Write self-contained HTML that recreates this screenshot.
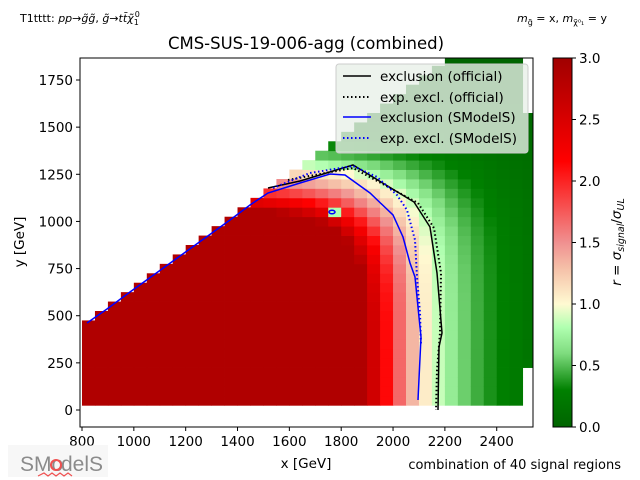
<!DOCTYPE html>
<html><head><meta charset="utf-8"><style>
html,body{margin:0;padding:0;background:#fff;}
svg{display:block;font-family:"DejaVu Sans","Liberation Sans",sans-serif;}
</style></head><body>
<svg id="s" width="640" height="480" viewBox="0 0 640 480" xmlns="http://www.w3.org/2000/svg">
<defs>
<linearGradient id="cb" x1="0" y1="1" x2="0" y2="0">
<stop offset="0" stop-color="#006400"/>
<stop offset="0.1" stop-color="#008000"/>
<stop offset="0.2" stop-color="#7fdc7f"/>
<stop offset="0.27" stop-color="#b0ffb0"/>
<stop offset="0.333" stop-color="#fffad2"/>
<stop offset="0.43" stop-color="#f5c0a8"/>
<stop offset="0.5" stop-color="#f09090"/>
<stop offset="0.72" stop-color="#ff0000"/>
<stop offset="1" stop-color="#a00000"/>
</linearGradient>
<clipPath id="ax"><rect x="80" y="58" width="453" height="369"/></clipPath>
</defs>
<g id="cells" clip-path="url(#ax)"></g>
<g clip-path="url(#ax)" fill="none" stroke-width="1.5">
<polyline stroke="#000" points="268,188 300,181 353,165 414,202 430,227 437,273 442,333 439,347 438,410"/>
<polyline stroke="#000" stroke-dasharray="1.5,2.5" stroke-width="2" points="288,180 320,174 353,168 418,203 434,228 441,273 440,333 437,370 436,410"/>
<polyline stroke="#00f" points="87,323 107,309 130,292 155,274 180,256 205,238 230,220 250,205 268,193 300,183 330,174 345,175 370,193 393,215 403,237 410,263 415,277 421,337 418,400"/>
<polyline stroke="#00f" stroke-dasharray="1.5,2.5" stroke-width="2" points="273,188 310,173 353,166 377,177 397,195 407,210 415,240 417,277 420,313 421,345"/>
<ellipse cx="332" cy="212" rx="3" ry="1.8" stroke="#00f"/>
</g>
<rect x="80" y="58" width="453" height="369" fill="none" stroke="#000" stroke-width="1"/>
<rect x="336" y="64" width="192" height="89" rx="3" fill="#e8f0e8" fill-opacity="0.8" stroke="#ccc"/>
<g stroke-width="1.5">
<line x1="343" y1="76" x2="371" y2="76" stroke="#000"/>
<line x1="343" y1="97" x2="371" y2="97" stroke="#000" stroke-dasharray="1.5,2.5" stroke-width="2"/>
<line x1="343" y1="117" x2="371" y2="117" stroke="#00f"/>
<line x1="343" y1="138" x2="371" y2="138" stroke="#00f" stroke-dasharray="1.5,2.5" stroke-width="2"/>
</g>
<g font-size="13.5" fill="#000">
<text x="380" y="81">exclusion (official)</text>
<text x="380" y="102">exp. excl. (official)</text>
<text x="380" y="122">exclusion (SModelS)</text>
<text x="380" y="143">exp. excl. (SModelS)</text>
</g>
<g id="ticks" font-size="13.5" fill="#000"></g>
<rect x="553" y="58" width="19" height="369" fill="url(#cb)" stroke="#000" stroke-width="1"/>
<text x="306" y="49" font-size="16.5" text-anchor="middle">CMS-SUS-19-006-agg (combined)</text>
<text x="306" y="468" font-size="13.5" text-anchor="middle">x [GeV]</text>
<text transform="translate(24,242) rotate(-90)" font-size="13.5" text-anchor="middle">y [GeV]</text>
<text transform="translate(621,242) rotate(-90)" font-size="13.5" text-anchor="middle"><tspan font-style="italic">r</tspan> = <tspan font-style="italic">σ</tspan><tspan font-size="9.5" dy="3" font-style="italic">signal</tspan><tspan dy="-3">/</tspan><tspan font-style="italic">σ</tspan><tspan font-size="9.5" dy="3" font-style="italic">UL</tspan></text>
<text x="621" y="469" font-size="13" text-anchor="end">combination of 40 signal regions</text>
<text x="20" y="22" font-size="11">T1tttt: <tspan font-style="italic">pp</tspan>→<tspan font-style="italic">g̃g̃</tspan>, <tspan font-style="italic">g̃</tspan>→<tspan font-style="italic">tt̄χ̃</tspan><tspan font-size="8" dy="3">1</tspan><tspan font-size="8" dy="-8" dx="-4">0</tspan></text>
<text x="607" y="22" font-size="11" text-anchor="end"><tspan font-style="italic">m</tspan><tspan font-size="8" dy="3">g̃</tspan><tspan dy="-3"> = x, </tspan><tspan font-style="italic">m</tspan><tspan font-size="8" dy="3">χ̃⁰₁</tspan><tspan dy="-3"> = y</tspan></text>
<g opacity="0.85">
<rect x="8" y="445" width="100" height="32" fill="#eee" opacity="0.6"/>
<text x="20" y="471" font-size="21" fill="#777" font-family="Liberation Sans, sans-serif">SMo</text>
<text x="61" y="471" font-size="21" fill="#777" font-family="Liberation Sans, sans-serif">delS</text>
<circle cx="56" cy="465" r="5" fill="none" stroke="#e33" stroke-width="2"/>
<polyline points="38,476 44,473 48,476 52,473 56,476 60,473 64,476 68,473 72,476" fill="none" stroke="#e33" stroke-width="1.2"/>
</g>
</svg>
<script>
(function(){
var ns="http://www.w3.org/2000/svg";
function px(x){return 82+(x-800)*0.2592;}
function py(y){return 410-y*0.18857;}
var stops=[[0,[0,100,0]],[0.3,[0,128,0]],[0.6,[127,220,127]],[0.8,[176,255,176]],[1.0,[255,250,210]],[1.3,[245,192,168]],[1.5,[240,144,144]],[2.15,[255,0,0]],[3.0,[176,0,0]]];
function col(r){
 if(r<=0)r=0; if(r>=3)r=3;
 for(var i=1;i<stops.length;i++){ if(r<=stops[i][0]){var a=stops[i-1],b=stops[i];var t=(r-a[0])/(b[0]-a[0]);
  return "rgb("+[0,1,2].map(function(k){return Math.round(a[1][k]+t*(b[1][k]-a[1][k]));}).join(",")+")";}}
 return "rgb(176,0,0)";
}
var g=document.getElementById("cells");
for(var xi=800;xi<2550;xi+=50){
 var xc=xi+25;
 for(var yb=25;yb<1900;yb+=50){
  var yc=yb+25;
  if(yc>xc-375) continue;
  var ytop=py(yb+50), ybot=py(yb);
  if(ybot<58) continue;
  if(xi>=2500 && (ytop<105||ybot>368)) continue;
  var ax=Math.pow(Math.max(xc-790,0)/1350,6), ay=Math.pow(Math.max(yc,0)/1300,6);
  var u=Math.pow(ax+ay,1/6);
  var s=1350*(u-1);
  var w=ay/(ax+ay+1e-9);
  var r= s<0? Math.exp(-s/220): Math.exp(-s/(230-130*w));
  if(xi==1750 && yb==1025) r=0.8;
  var rc=document.createElementNS(ns,"rect");
  rc.setAttribute("x",px(xi).toFixed(2));rc.setAttribute("y",ytop.toFixed(2));
  rc.setAttribute("width",(50*0.2592+0.4).toFixed(2));rc.setAttribute("height",(ybot-ytop+0.4).toFixed(2));
  rc.setAttribute("fill",col(r));g.appendChild(rc);
 }
}
var t=document.getElementById("ticks");
function add(tag,attrs,txt){var e=document.createElementNS(ns,tag);for(var k in attrs)e.setAttribute(k,attrs[k]);if(txt!=null)e.textContent=txt;t.appendChild(e);}
for(var v=800;v<=2400;v+=200){var x=px(v);add("line",{x1:x,x2:x,y1:427,y2:431,stroke:"#000"});add("text",{x:x,y:446,"text-anchor":"middle"},v);}
for(var v=0;v<=1750;v+=250){var y=py(v);add("line",{x1:76,x2:80,y1:y,y2:y,stroke:"#000"});add("text",{x:73,y:y+5,"text-anchor":"end"},v);}
for(var i=0;i<=6;i++){var y=427-i*61.5;add("line",{x1:572,x2:576,y1:y,y2:y,stroke:"#000"});add("text",{x:579,y:y+5},(i*0.5).toFixed(1));}
})();
</script>
</body></html>
